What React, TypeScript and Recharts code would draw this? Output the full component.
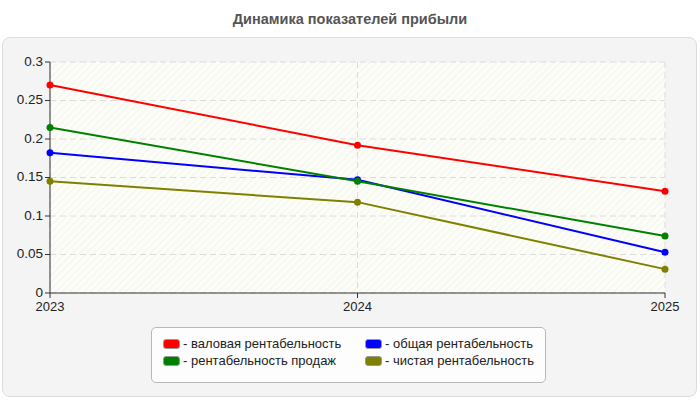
import React from "react";
import {
  LineChart,
  Line,
  XAxis,
  YAxis,
  CartesianGrid,
} from "recharts";

const years = ["2023", "2024", "2025"];
const grossMargin = [0.27, 0.192, 0.132];
const salesMargin = [0.215, 0.145, 0.074];
const totalMargin = [0.182, 0.147, 0.053];
const netMargin = [0.145, 0.118, 0.031];
const yTicks = [0, 0.05, 0.1, 0.15, 0.2, 0.25, 0.3];

const series = [
  { key: "gross", name: "валовая рентабельность", color: "#ff0000", values: grossMargin },
  { key: "total", name: "общая рентабельность", color: "#0000ff", values: totalMargin },
  { key: "sales", name: "рентабельность продаж", color: "#008000", values: salesMargin },
  { key: "net", name: "чистая рентабельность", color: "#808000", values: netMargin },
];

const data = years.map((year, i) => {
  const row: Record<string, string | number> = { year };
  series.forEach((s) => {
    row[s.key] = s.values[i];
  });
  return row;
});

const FONT = "'Liberation Sans', Arial, sans-serif";

function LegendBox() {
  return (
    <div
      style={{
        position: "absolute",
        left: 151,
        top: 327,
        width: 395,
        height: 56,
        boxSizing: "border-box",
        background: "#fdfdfd",
        border: "1px solid #b8b8b8",
        borderRadius: 5,
        padding: "8px 0 0 11px",
        display: "grid",
        gridTemplateColumns: "202px 190px",
        alignContent: "start",
        rowGap: 2,
        fontFamily: FONT,
        fontSize: 13,
        color: "#222",
      }}
    >
      {series.map((s) => (
        <div key={s.key} style={{ display: "flex", alignItems: "center", height: 15, whiteSpace: "nowrap" }}>
          <span
            style={{
              display: "inline-block",
              width: 15,
              height: 8,
              background: s.color,
              border: "1px solid #999",
              borderRadius: 3,
              marginRight: 3,
            }}
          />
          <span>- {s.name}</span>
        </div>
      ))}
    </div>
  );
}

export default function App() {
  return (
    <div style={{ position: "absolute", left: 0, top: 0, width: 700, height: 400, background: "#ffffff" }}>
      <div
        style={{
          position: "absolute",
          left: 2,
          top: 37,
          width: 695,
          height: 360,
          boxSizing: "border-box",
          background: "#f4f4f4",
          border: "1px solid #dcdcdc",
          borderRadius: 8,
        }}
      />
      <div
        style={{
          position: "absolute",
          left: 0,
          top: 11,
          width: 700,
          textAlign: "center",
          fontFamily: FONT,
          fontWeight: "bold",
          fontSize: 14.5,
          color: "#555",
        }}
      >
        Динамика показателей прибыли
      </div>
      <div style={{ position: "absolute", left: 0, top: 0 }}>
        <LineChart width={700} height={400} data={data} margin={{ top: 62, right: 35, left: 5, bottom: 77 }}>
          <defs>
            <pattern id="hatch" width="5" height="5" patternUnits="userSpaceOnUse" patternTransform="rotate(45)">
              <rect width="5" height="5" fill="#fdfdf7" />
              <line x1="0" y1="0" x2="0" y2="5" stroke="#ebebe6" strokeWidth="1" />
            </pattern>
          </defs>
          <CartesianGrid
            strokeDasharray="6 4"
            stroke="#dcdcdc"
            fill="url(#hatch)"
            fillOpacity={1}
          />
          <XAxis
            dataKey="year"
            tick={{ fill: "#222", fontSize: 13, fontFamily: FONT }}
            tickSize={5}
            tickMargin={4}
            axisLine={{ stroke: "#333" }}
            tickLine={{ stroke: "#333" }}
            height={30}
          />
          <YAxis
            domain={[0, 0.3]}
            ticks={yTicks}
            tick={{ fill: "#222", fontSize: 13.5, fontFamily: FONT, dy: -1 }}
            tickSize={5}
            tickMargin={2}
            axisLine={{ stroke: "#333" }}
            tickLine={{ stroke: "#333" }}
            width={45}
          />
          {series.map((s) => (
            <Line
              key={s.key}
              dataKey={s.key}
              name={s.name}
              type="linear"
              stroke={s.color}
              strokeWidth={2}
              dot={{ r: 3.5, fill: s.color, stroke: s.color, strokeWidth: 0 }}
              activeDot={false}
              isAnimationActive={false}
            />
          ))}
        </LineChart>
      </div>
      <LegendBox />
    </div>
  );
}
